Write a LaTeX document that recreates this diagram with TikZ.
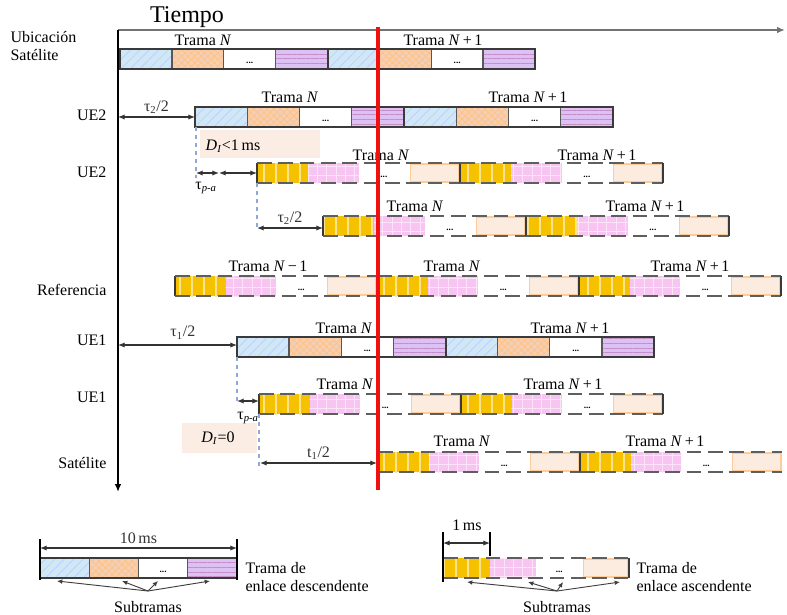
\documentclass[tikz,border=0pt]{standalone}
\usepackage{fontspec}
\setmainfont{Liberation Serif}
\usetikzlibrary{arrows.meta,patterns.meta}

\definecolor{dlblue}{HTML}{CFE8F6}
\definecolor{dlorange}{HTML}{F6CFB0}
\definecolor{dlpurple}{HTML}{DCC2F4}
\definecolor{ulyellow}{HTML}{F6C200}
\definecolor{ulpink}{HTML}{F8C4F2}
\definecolor{ulpeach}{HTML}{FCEBDF}
\definecolor{framegray}{HTML}{3A3A3A}
\definecolor{dashgray}{HTML}{5E5E5E}
\definecolor{guideblue}{HTML}{8FA8D8}
\definecolor{boxpeach}{HTML}{FBEDE4}
\definecolor{timered}{HTML}{F01010}

% downlink frame: x, y (top), width
\newcommand{\dlframe}[3]{%
  \pgfmathsetmacro{\sfw}{#3/4}
  \path[sfblue]   (#1,#2) rectangle ++(\sfw,20);
  \path[sforange] ({#1+\sfw},#2) rectangle ++(\sfw,20);
  \path[sfpurple] ({#1+3*\sfw},#2) rectangle ++(\sfw,20);
  \node[dots] at ({#1+2.5*\sfw},{#2+14}) {...};
  \foreach \k in {1,2,3} \draw[sep] ({#1+\k*\sfw},#2) -- ++(0,20);
  \draw[dlout] (#1,#2) rectangle ++(#3,20);
}
% uplink frame: x, y (top), width
\newcommand{\ulframe}[3]{%
  \pgfmathsetmacro{\sfw}{#3/4}
  \path[sfyellow] (#1,#2) rectangle ++(\sfw,20);
  \path[sfpink]   ({#1+\sfw},#2) rectangle ++(\sfw,20);
  \draw[sfpeach]  ({#1+3*\sfw+1},{#2+1}) rectangle ++({\sfw-2},18);
  \node[dots] at ({#1+2.5*\sfw},{#2+14}) {...};
  \draw[uledge] (#1,#2) -- ++(0,20);
  \draw[uldash] (#1,#2) -- ++(#3,0);
  \draw[uldash] (#1,{#2+20}) -- ++(#3,0);
}

\begin{document}
\begin{tikzpicture}[x=0.75pt, y=-0.75pt,
    lbl/.style={font=\fontsize{12}{13.5}\selectfont, inner sep=1pt},
    trama/.style={font=\fontsize{12}{14}\selectfont, inner sep=0pt},
    dots/.style={font=\fontsize{7}{8}\selectfont\bfseries, inner sep=0pt},
    sfblue/.style={preaction={fill=dlblue}, pattern={Lines[angle=45,distance=5pt,line width=0.5pt]}, pattern color=blue!22},
    sforange/.style={preaction={fill=dlorange}, pattern={Hatch[angle=45,distance=3.5pt,line width=0.4pt]}, pattern color=orange!50},
    sfpurple/.style={preaction={fill=dlpurple}, pattern={Lines[angle=0,distance=3.5pt,line width=0.5pt]}, pattern color=violet!45},
    sfyellow/.style={preaction={fill=ulyellow}, pattern={Lines[angle=90,distance=9pt,line width=1.5pt]}, pattern color=ulyellow!45!white},
    sfpink/.style={preaction={fill=ulpink}, pattern={Hatch[angle=0,distance=7pt,line width=0.5pt]}, pattern color=white!55!ulpink},
    sfpeach/.style={fill=ulpeach, draw=orange!40, line width=1pt},
    sep/.style={draw=framegray!85, line width=1pt},
    dlout/.style={draw=framegray, line width=1.5pt},
    uledge/.style={draw=framegray, line width=1.3pt},
    uldash/.style={draw=dashgray, line width=1.8pt, dash pattern=on 11pt off 5pt},
    axis/.style={line width=1.3pt, -{Latex[length=6pt,width=5pt]}},
    dim/.style={{Latex[length=5pt,width=4pt]}-{Latex[length=5pt,width=4pt]}, line width=0.9pt, black!80},
    guide/.style={draw=guideblue, dashed, line width=1pt},
    dbox/.style={fill=boxpeach, inner sep=0pt},
    subarrow/.style={-{Latex[length=4pt,width=3.5pt]}, line width=0.7pt, black!75}]
\useasboundingbox (0,0) rectangle (787,614);

% axes
\coordinate (origin) at (118,30);
\coordinate (tend) at (785,30);
\coordinate (vend) at (118,492);
\draw[axis, draw=black!55] (origin) -- (tend);
\draw[axis] (origin) -- (vend);
\node[font=\fontsize{18}{20}\selectfont, inner sep=0pt] (tiempo) at (187,17) {Tiempo};

% row labels
\node[lbl, anchor=west, align=left] (ubic) at (9,46) {Ubicación\\Satélite};
\node[lbl, anchor=east] (ue2a) at (108,115) {UE2};
\node[lbl, anchor=east] (ue2b) at (108,172) {UE2};
\node[lbl, anchor=east] (refl) at (108,290) {Referencia};
\node[lbl, anchor=east] (ue1a) at (108,340) {UE1};
\node[lbl, anchor=east] (ue1b) at (108,397) {UE1};
\node[lbl, anchor=east] (satl) at (108,463) {Satélite};

% delay boxes
\path[dbox] (200,130) rectangle (320,158);
\node[lbl] (dlt) at (233,146) {\textit{D}\textsubscript{\textit{I}}<1\,ms};
\path[dbox] (182,423) rectangle (257,453);
\node[lbl] (deq) at (218,438) {\textit{D}\textsubscript{\textit{I}}=0};

% frames
\dlframe{120}{49}{207.5}
\dlframe{327.5}{49}{207.5}
\node[trama] (satn) at (203,40) {Trama \textit{N}};
\node[trama] (satn1) at (443,40) {Trama \textit{N}\,+\,1};

\dlframe{195}{107}{209}
\dlframe{404}{107}{209}
\node[trama] (ue2n) at (290,97) {Trama \textit{N}};
\node[trama] (ue2n1) at (528,97) {Trama \textit{N}\,+\,1};

\ulframe{257}{163}{203}
\ulframe{460}{163}{203}
\draw[uledge] (663,163) -- (663,183);
\node[trama] (ue2un) at (381,155) {Trama \textit{N}};
\node[trama] (ue2un1) at (597,155) {Trama \textit{N}\,+\,1};

\ulframe{323}{216}{203}
\ulframe{526}{216}{203}
\draw[uledge] (729,216) -- (729,236);
\node[trama] (ue2sn) at (415,206) {Trama \textit{N}};
\node[trama] (ue2sn1) at (645,206) {Trama \textit{N}\,+\,1};

\ulframe{175}{276}{202}
\ulframe{377}{276}{202}
\ulframe{579}{276}{202}
\draw[uledge] (781,276) -- (781,296);
\node[trama] (refn0) at (268,266) {Trama \textit{N}\,−\,1};
\node[trama] (refn) at (452,266) {Trama \textit{N}};
\node[trama] (refn1) at (690,266) {Trama \textit{N}\,+\,1};

\dlframe{237}{337}{208.5}
\dlframe{445.5}{337}{208.5}
\node[trama] (ue1n) at (344,328) {Trama \textit{N}};
\node[trama] (ue1n1) at (570,328) {Trama \textit{N}\,+\,1};

\ulframe{259}{394}{202}
\ulframe{461}{394}{202}
\draw[uledge] (663,394) -- (663,414);
\node[trama] (ue1un) at (345,384) {Trama \textit{N}};
\node[trama] (ue1un1) at (563,384) {Trama \textit{N}\,+\,1};

\ulframe{378}{452}{202}
\ulframe{580}{452}{202}
\node[trama] (satun) at (462,441) {Trama \textit{N}};
\node[trama] (satun1) at (665,441) {Trama \textit{N}\,+\,1};

% guides and delays
\coordinate (g1a) at (196,127); \coordinate (g1b) at (196,178);
\coordinate (g2a) at (257,183); \coordinate (g2b) at (257,230);
\coordinate (g3a) at (237,357); \coordinate (g3b) at (237,405);
\coordinate (g4a) at (259,414); \coordinate (g4b) at (259,470);
\draw[guide] (g1a) -- (g1b);
\draw[guide] (g2a) -- (g2b);
\draw[guide] (g3a) -- (g3b);
\draw[guide] (g4a) -- (g4b);

\coordinate (ax2) at (118,117); \coordinate (ue2st) at (195,117);
\draw[dim] (ax2) -- node[lbl, above=1pt] (tau2a) {τ\textsubscript{2}/2} (ue2st);
\coordinate (pa1) at (196,173); \coordinate (pa2) at (219,173); \coordinate (pa3) at (257,173);
\draw[dim] (pa1) -- (pa2);
\draw[dim] (pa2) -- (pa3);
\node[lbl] (tpa1) at (206,188) {τ\textsubscript{\textit{p-a}}};
\coordinate (t2s) at (257,228); \coordinate (t2e) at (323,228);
\draw[dim] (t2s) -- node[lbl, above=1pt] (tau2b) {τ\textsubscript{2}/2} (t2e);
\coordinate (ax1) at (118,345); \coordinate (ue1st) at (237,345);
\draw[dim] (ax1) -- node[lbl, above=3pt, xshift=4pt] (tau1) {τ\textsubscript{1}/2} (ue1st);
\coordinate (pb1) at (237,401); \coordinate (pb2) at (259,401);
\draw[dim] (pb1) -- (pb2);
\node[lbl] (tpa2) at (248,418) {τ\textsubscript{\textit{p-a}}};
\coordinate (t1s) at (260,463); \coordinate (t1e) at (377,463);
\draw[dim] (t1s) -- node[lbl, above=1pt] (t1h) {t\textsubscript{1}/2} (t1e);

% reference instant
\coordinate (redtop) at (377.5,27);
\coordinate (redbot) at (377.5,490);
\draw[timered, line width=3pt] (redtop) -- (redbot);

% legend: downlink
\dlframe{40}{558}{197}
\draw[line width=1pt] (40,539) -- (40,580) (237,539) -- (237,580);
\coordinate (ms10a) at (40,548); \coordinate (ms10b) at (237,548);
\draw[dim] (ms10a) -- node[lbl, above=2pt] (ms10) {10\,ms} (ms10b);
\node[lbl, anchor=west, align=left] (dltxt) at (244,577) {Trama de\\enlace descendente};
\node[lbl] (subdl) at (148,607) {Subtramas};
\coordinate (sdtip) at (148,591);
\foreach \px [count=\i] in {57,122,158,210} {
  \coordinate (sd\i) at (\px,581);
  \draw[subarrow] (sdtip) -- (sd\i);
}

% legend: uplink
\ulframe{443}{558}{186}
\draw[uledge] (629,558) -- (629,578);
\draw[line width=1pt] (443,532) -- (443,582) (490,532) -- (490,556);
\coordinate (ms1a) at (443,543); \coordinate (ms1b) at (490,543);
\draw[dim] (ms1a) -- (ms1b);
\node[lbl] (ms1) at (467,525) {1\,ms};
\node[lbl, anchor=west, align=left] (ultxt) at (635,577) {Trama de\\enlace ascendente};
\node[lbl] (subul) at (557,607) {Subtramas};
\coordinate (sutip) at (557,591);
\foreach \px [count=\i] in {467,528,563,620} {
  \coordinate (su\i) at (\px,582);
  \draw[subarrow] (sutip) -- (su\i);
}
\end{tikzpicture}
\end{document}
